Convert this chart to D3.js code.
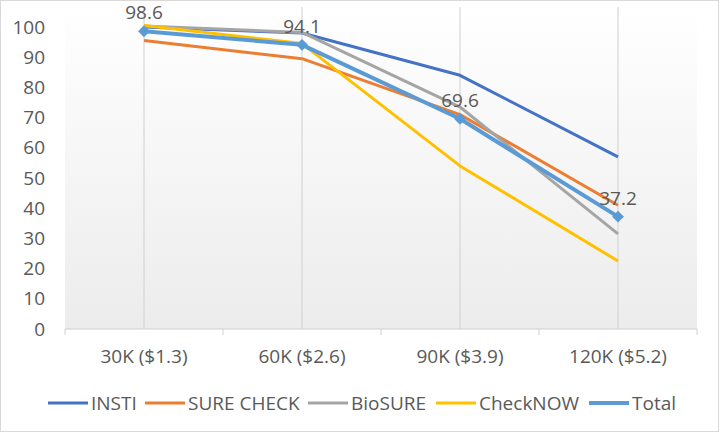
<!DOCTYPE html>
<html>
<head>
<meta charset="UTF-8">
<script src="https://cdn.jsdelivr.net/npm/d3@7"></script>
<style>
    body { margin: 0; background: #fff; }
    svg text { font-family: "Open Sans", sans-serif; fill: #595959; }
</style>
</head>
<body>
<svg id="chart" width="720" height="433"></svg>
<script>
    // chart data
    var categories = ['30K ($1.3)', '60K ($2.6)', '90K ($3.9)', '120K ($5.2)']
    var insti = [100, 98, 84, 57]
    var sureCheck = [95.5, 89.5, 71, 41]
    var bioSure = [100.3, 98.2, 73.5, 31.5]
    var checkNow = [100.5, 94.5, 54, 22.5]
    var total = [98.6, 94.1, 69.6, 37.2]
    var yTicks = [0, 10, 20, 30, 40, 50, 60, 70, 80, 90, 100]

    var series = [
        {name: 'INSTI', values: insti, color: '#4472C4'},
        {name: 'SURE CHECK', values: sureCheck, color: '#ED7D31'},
        {name: 'BioSURE', values: bioSure, color: '#A5A5A5'},
        {name: 'CheckNOW', values: checkNow, color: '#FFC000'},
        {name: 'Total', values: total, color: '#5B9BD5'}
    ]

    var svg = d3.select('#chart')
    var plotL = 65, plotR = 697, plotT = 27, plotB = 329
    var fs = 19

    // outer border
    svg.append('rect').attr('x', 0.5).attr('y', 0.5).attr('width', 718).attr('height', 431)
        .attr('fill', '#fff').attr('stroke', '#d9d9d9')

    var defs = svg.append('defs')
    var grad = defs.append('linearGradient').attr('id', 'bg').attr('x1', 0).attr('y1', 0).attr('x2', 0).attr('y2', 1)
    grad.append('stop').attr('offset', '0%').attr('stop-color', '#ffffff')
    grad.append('stop').attr('offset', '100%').attr('stop-color', '#ececec')

    var x = d3.scaleBand().domain(categories).range([plotL, plotR])
    var y = d3.scaleLinear().domain([0, 100]).range([plotB, plotT])
    var cx = function(c){ return x(c) + x.bandwidth() / 2 }

    svg.append('rect').attr('x', plotL).attr('y', plotT - 20).attr('width', plotR - plotL).attr('height', plotB - plotT + 20)
        .attr('fill', 'url(#bg)')

    // vertical gridlines at categories
    svg.append('g').selectAll('line').data(categories).enter().append('line')
        .attr('x1', cx).attr('x2', cx).attr('y1', plotT - 20).attr('y2', plotB)
        .attr('stroke', '#d0d0d0').attr('stroke-width', 1)

    // x axis
    var xAxis = svg.append('g').attr('transform', 'translate(0,' + plotB + ')')
    xAxis.append('line').attr('x1', plotL).attr('x2', plotR).attr('stroke', '#d0d0d0')
    xAxis.selectAll('.tk').data(d3.range(categories.length + 1)).enter().append('line')
        .attr('x1', function(i){ return plotL + i * x.step() }).attr('x2', function(i){ return plotL + i * x.step() })
        .attr('y1', 0).attr('y2', 6).attr('stroke', '#d0d0d0')
    xAxis.selectAll('text').data(categories).enter().append('text')
        .attr('x', cx).attr('y', 34).attr('text-anchor', 'middle').attr('font-size', fs)
        .text(function(d){ return d })

    // y axis labels
    svg.append('g').selectAll('text').data(yTicks).enter().append('text')
        .attr('x', 45).attr('y', function(d){ return y(d) }).attr('dy', '0.35em')
        .attr('text-anchor', 'end').attr('font-size', fs)
        .text(function(d){ return d })

    // lines
    var line = d3.line().x(function(d, i){ return cx(categories[i]) }).y(function(d){ return y(d) })
    svg.append('g').selectAll('path').data(series).enter().append('path')
        .attr('d', function(s){ return line(s.values) })
        .attr('fill', 'none').attr('stroke', function(s){ return s.color })
        .attr('stroke-width', function(s){ return s.name == 'Total' ? 4 : 3 })
        .attr('stroke-linejoin', 'round')

    // total markers and labels
    var diamond = d3.symbol().type(d3.symbolDiamond2).size(90)
    svg.append('g').selectAll('path').data(total).enter().append('path')
        .attr('d', diamond)
        .attr('transform', function(d, i){ return 'translate(' + cx(categories[i]) + ',' + y(d) + ')' })
        .attr('fill', '#5B9BD5')
    svg.append('g').selectAll('text').data(total).enter().append('text')
        .attr('x', function(d, i){ return cx(categories[i]) }).attr('y', function(d){ return y(d) - 12 })
        .attr('text-anchor', 'middle').attr('font-size', fs)
        .text(function(d){ return d })

    // legend
    var legendX = [48, 145, 308, 436, 589]
    var lg = svg.append('g').selectAll('g').data(series).enter().append('g')
        .attr('transform', function(s, i){ return 'translate(' + legendX[i] + ',403)' })
    lg.append('line').attr('x1', 0).attr('x2', 40).attr('stroke', function(s){ return s.color })
        .attr('stroke-width', function(s){ return s.name == 'Total' ? 4 : 3 })
    lg.append('text').attr('x', 43).attr('dy', '0.35em').attr('font-size', fs)
        .text(function(s){ return s.name })
</script>
</body>
</html>
